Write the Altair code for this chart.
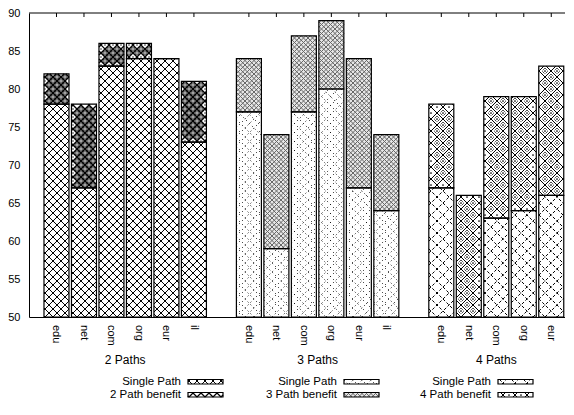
import altair as alt
import pandas as pd

# ---------------- data ----------------
groups = ["2 Paths", "3 Paths", "4 Paths"]

cats_2 = ["edu", "net", "com", "org", "eur", "il"]
single_2 = [78, 67, 83, 84, 84, 73]
total_2 = [82, 78, 86, 86, 84, 81]

cats_3 = ["edu", "net", "com", "org", "eur", "il"]
single_3 = [77, 59, 77, 80, 67, 64]
total_3 = [84, 74, 87, 89, 84, 74]

cats_4 = ["edu", "net", "com", "org", "eur"]
single_4 = [67, 50, 63, 64, 66]
total_4 = [78, 66, 79, 79, 83]

legend_single = ["Single Path", "Single Path", "Single Path"]
legend_benefit = ["2 Path benefit", "3 Path benefit", "4 Path benefit"]

y_ticks = [50, 55, 60, 65, 70, 75, 80, 85, 90]

# ---------------- layout ----------------
W, H = 536, 304
XMIN, XMAX = -1.0, 18.5
YMIN, YMAX = 50.0, 90.0
KX = W / (XMAX - XMIN)
KY = H / (YMAX - YMIN)
HALF = 12.5 / KX
FONT = "Liberation Sans"

seg_rows, cat_rows, grp_rows, leg_rows = [], [], [], []
pos = 0
for g, (cats, sv, tv) in enumerate([(cats_2, single_2, total_2),
                                     (cats_3, single_3, total_3),
                                     (cats_4, single_4, total_4)]):
    first = pos
    for c, s, t in zip(cats, sv, tv):
        s_top = max(s, YMIN)
        seg_rows.append(dict(pat=2 * g, x0=pos - HALF, x1=pos + HALF, lo=YMIN, hi=s_top))
        seg_rows.append(dict(pat=2 * g + 1, x0=pos - HALF, x1=pos + HALF, lo=s_top, hi=max(t, s_top)))
        cat_rows.append(dict(idx=pos, cat=c))
        pos += 1
    grp_rows.append(dict(group=groups[g], xc=(first + pos - 1) / 2))
    pos += 1  # empty slot between groups

LEG_BOX_X = [159, 315, 469]
LEG_ROW_Y = [366.5, 379.5]
BOX_W, BOX_H = 35, 4.5
for g in range(3):
    for r, lab in enumerate([legend_single[g], legend_benefit[g]]):
        bx, by = LEG_BOX_X[g], LEG_ROW_Y[r]
        seg_rows.append(dict(pat=2 * g + r,
                             x0=XMIN + bx / KX, x1=XMIN + (bx + BOX_W) / KX,
                             lo=YMAX - (by + BOX_H) / KY, hi=YMAX - by / KY))
        leg_rows.append(dict(label=lab, tx=XMIN + (bx - 7) / KX,
                             ty=YMAX - (by + BOX_H / 2) / KY))

seg_df = pd.DataFrame(seg_rows)
cat_df = pd.DataFrame(cat_rows)
grp_df = pd.DataFrame(grp_rows)
leg_df = pd.DataFrame(leg_rows)

xs = alt.Scale(domain=[XMIN, XMAX], nice=False, zero=False)
ys = alt.Scale(domain=[YMIN, YMAX], nice=False, zero=False)
xaxis = alt.Axis(labels=False, ticks=False, tickSize=0, grid=False,
                 domainColor="black", domainWidth=1, title="")
yaxis = alt.Axis(values=y_ticks, ticks=False, tickSize=0, labelPadding=9, grid=False,
                 domainColor="black", domainWidth=1, labelColor="black",
                 labelFontSize=11, labelFont=FONT, title="")


def X(f):
    return alt.X(f, type="quantitative", scale=xs, axis=xaxis)


def Y(f):
    return alt.Y(f, type="quantitative", scale=ys, axis=yaxis)


def geom(pat):
    return alt.Chart(seg_df).transform_filter(f"datum.pat == {pat}").transform_calculate(
        X0=f"(datum.x0 - ({XMIN})) * {KX}",
        WW=f"(datum.x1 - datum.x0) * {KX}",
        Y0=f"(datum.lo - ({YMIN})) * {KY}",
        HH=f"(datum.hi - datum.lo) * {KY}",
    )


def hatch(pat, p, fam, color, width, dash=None, phase=0.0):
    ch = geom(pat)
    if fam > 0:
        ch = ch.transform_calculate(
            ks=f"sequence(floor((datum.Y0 - datum.X0 - datum.WW - {phase}) / {p}) + 1, "
               f"ceil((datum.Y0 - datum.X0 + datum.HH - {phase}) / {p}))"
        ).transform_flatten(["ks"]).transform_calculate(
            c=f"datum.ks * {p} + {phase} - datum.Y0 + datum.X0"
        ).transform_calculate(
            us="max(0, -datum.c)", ue="min(datum.WW, datum.HH - datum.c)"
        ).transform_calculate(
            vs="datum.us + datum.c", ve="datum.ue + datum.c"
        )
    else:
        ch = ch.transform_calculate(
            ks=f"sequence(floor((datum.Y0 + datum.X0 - {phase}) / {p}) + 1, "
               f"ceil((datum.Y0 + datum.X0 + datum.WW + datum.HH - {phase}) / {p}))"
        ).transform_flatten(["ks"]).transform_calculate(
            c=f"datum.ks * {p} + {phase} - datum.Y0 - datum.X0"
        ).transform_calculate(
            us="max(0, datum.c - datum.HH)", ue="min(datum.WW, datum.c)"
        ).transform_calculate(
            vs="datum.c - datum.us", ve="datum.c - datum.ue"
        )
    ch = ch.transform_calculate(
        xa=f"datum.x0 + datum.us / {KX}", xb=f"datum.x0 + datum.ue / {KX}",
        ya=f"datum.lo + datum.vs / {KY}", yb=f"datum.lo + datum.ve / {KY}",
    )
    kw = dict(color=color, strokeWidth=width)
    if dash:
        kw["strokeDash"] = dash
    return ch.mark_rule(**kw).encode(x=X("xa"), x2="xb", y=Y("ya"), y2="yb")


def centers(pat, p, mg, phase=0.0):
    hp = p / 2
    return geom(pat).transform_calculate(
        ns=f"sequence(ceil((datum.Y0 + {mg} - {phase}) / {hp}), "
           f"floor((datum.Y0 + datum.HH - {mg} - {phase}) / {hp}) + 1)"
    ).transform_flatten(["ns"]).transform_calculate(
        ds=f"sequence(ceil((datum.X0 + {mg}) / {hp}), floor((datum.X0 + datum.WW - {mg}) / {hp}) + 1)"
    ).transform_flatten(["ds"]).transform_filter(
        "abs((datum.ns + datum.ds) % 2) == 1"
    ).transform_calculate(
        px=f"datum.x0 + (datum.ds * {hp} - datum.X0) / {KX}",
        py=f"datum.lo + (datum.ns * {hp} + {phase} - datum.Y0) / {KY}",
    )


DIAMOND = "M0,-1L1,0L0,1L-1,0Z"
layers = []

# pattern 3 (3-path benefit) has a light grey ground
layers.append(geom(3).mark_rect(color="#e6e6e6").encode(x=X("x0"), x2="x1", y=Y("lo"), y2="hi"))

# 0: 2 paths single - crosshatch
for f in (1, -1):
    layers.append(hatch(0, 8, f, "black", 1.0))
# 1: 2 path benefit - heavier crosshatch with rings
for f in (1, -1):
    layers.append(hatch(1, 8, f, "black", 1.3))
layers.append(centers(1, 8, 2.2).mark_point(shape="circle", size=18, filled=True, fill="white",
                                            stroke="black", strokeWidth=1, opacity=1)
              .encode(x=X("px"), y=Y("py")))
layers.append(centers(1, 8, 1).mark_point(shape="circle", size=2, filled=True, color="black", opacity=1)
              .encode(x=X("px"), y=Y("py")))
# 2: 3 paths single - sparse dotted hatch
for f in (1, -1):
    layers.append(hatch(2, 9, f, "black", 1.0, dash=[1, 3]))
# 3: 3 path benefit - fine grey crosshatch
for f in (1, -1):
    layers.append(hatch(3, 4.5, f, "#666666", 1.0))
# 4: 4 paths single - dashed diamond lattice
for f in (1, -1):
    layers.append(hatch(4, 12, f, "black", 1.0, dash=[3, 2]))
# 5: 4 path benefit - diamond lattice with nested diamonds
for f in (1, -1):
    layers.append(hatch(5, 12, f, "black", 1.0))
layers.append(centers(5, 12, 3.5).mark_point(shape=DIAMOND, size=36, filled=False, stroke="black",
                                             strokeWidth=1, strokeDash=[1, 1], opacity=1)
              .encode(x=X("px"), y=Y("py")))
layers.append(centers(5, 12, 1).mark_point(shape="circle", size=3, filled=True, color="black", opacity=1)
              .encode(x=X("px"), y=Y("py")))

# outlines of every segment and legend box
layers.append(alt.Chart(seg_df).mark_rect(fillOpacity=0, stroke="black", strokeWidth=1.2)
              .encode(x=X("x0"), x2="x1", y=Y("lo"), y2="hi"))

# frame top line and mirrored ticks
one = pd.DataFrame({"a": [0]})
layers.append(alt.Chart(one).mark_rule(color="black", strokeWidth=1)
              .encode(x=alt.value(0), x2=alt.value(W), y=alt.value(0)))
layers.append(alt.Chart(cat_df).mark_rule(color="black", strokeWidth=1)
              .encode(x=X("idx"), y=alt.value(0), y2=alt.value(4)))

# category labels
layers.append(alt.Chart(cat_df).mark_text(angle=90, align="left", baseline="middle",
                                          fontSize=11, font=FONT, color="black")
              .encode(x=X("idx"), y=alt.value(H + 8), text="cat:N"))
# group labels
layers.append(alt.Chart(grp_df).mark_text(align="center", baseline="middle",
                                          fontSize=12, font=FONT, color="black")
              .encode(x=X("xc"), y=alt.value(H + 42.5), text="group:N"))
# legend labels
layers.append(alt.Chart(leg_df).mark_text(align="right", baseline="middle",
                                          fontSize=11.5, font=FONT, color="black")
              .encode(x=X("tx"), y=Y("ty"), text="label:N"))

chart = alt.layer(*layers).properties(
    width=W, height=H,
    padding={"left": 21, "top": 5, "right": 0, "bottom": 84},
    autosize=alt.AutoSizeParams(type="none"),
).configure_view(strokeWidth=0)

chart.save("out.html", embed_options={"renderer": "svg", "actions": False})
